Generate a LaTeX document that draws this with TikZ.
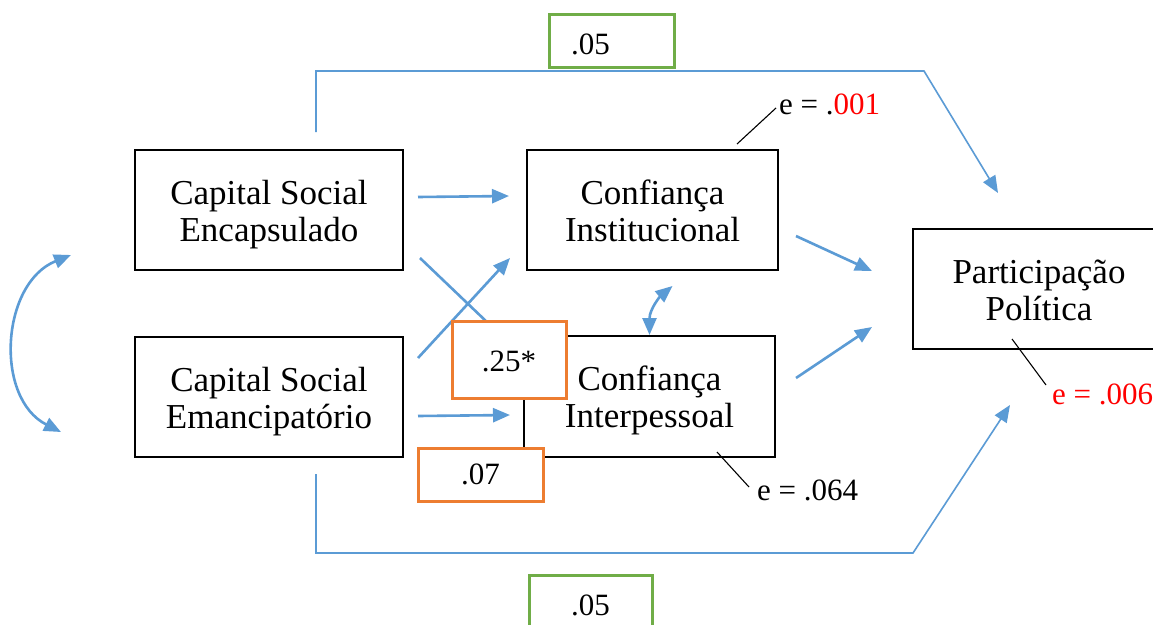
\documentclass[tikz,border=0pt]{standalone}
\usepackage{fontspec}
\setmainfont{Liberation Serif}
\usetikzlibrary{arrows.meta,calc}
\definecolor{cblue}{RGB}{91,155,213}
\definecolor{corange}{RGB}{237,125,49}
\definecolor{cgreen}{RGB}{112,173,71}
\newcommand{\topst}{\vrule width 0pt height 35pt depth 0pt}
\newcommand{\botst}{\vrule width 0pt height 0pt depth 10pt}
\begin{document}
\begin{tikzpicture}[x=1pt,y=-1pt,
  box/.style={draw=black, line width=2pt, fill=white, align=center,
    font=\fontsize{35}{37}\selectfont, inner sep=0pt},
  obox/.style={draw=corange, line width=3pt, fill=white, inner sep=0pt,
    font=\fontsize{31}{33}\selectfont},
  gbox/.style={draw=cgreen, line width=3pt, fill=white, inner sep=0pt,
    font=\fontsize{31}{33}\selectfont},
  etext/.style={anchor=west, inner sep=0pt, font=\fontsize{31}{33}\selectfont},
  tip/.style={-{Triangle[length=17pt,width=14pt]}},
  dtip/.style={{Triangle[length=17pt,width=14pt]}-{Triangle[length=17pt,width=14pt]}},
  arr/.style={draw=cblue, line width=2.6pt, tip},
  longarr/.style={draw=cblue, line width=1.6pt, -{Triangle[length=17pt,width=14pt]}},
  eline/.style={draw=black, line width=1.1pt}
]
\clip (0,0) rectangle (1153,624);
\fill[white] (0,0) rectangle (1153,624);

% main boxes
\node[box, minimum width=268pt, minimum height=120pt] (CSE) at (269,210) {\topst Capital Social\\Encapsulado\botst};
\node[box, minimum width=268pt, minimum height=120pt] (CSEm) at (269,397) {\topst Capital Social\\Emancipatório\botst};
\node[box, minimum width=251pt, minimum height=120pt] (CI) at (652.5,210) {\topst Confiança\\Institucional\botst};
\node[box, minimum width=251pt, minimum height=121pt] (CIP) at (649.5,396.5) {\topst Confiança\\Interpessoal\botst};
\node[box, minimum width=252pt, minimum height=120pt] (PP) at (1039,289) {\topst Participação\\Política\botst};

% long paths
\coordinate (tc) at (924,71);
\coordinate (bc) at (913,553);
\draw[longarr] ($(CSE.north)+(47,-17)$) |- (tc) -- ($(PP.north)+(-41,-35)$);
\draw[longarr] ($(CSEm.south)+(47,16)$) |- (bc) -- ($(PP.south)+(-29,55)$);

% straight arrows
\draw[arr] ($(CSE.east)+(14,-13)$) -- ($(CI.west)+(-17,-14)$);
\draw[arr] ($(CSEm.east)+(14,-39)$) -- ($(CI.west)+(-16,48)$);
\draw[arr] ($(CSE.east)+(16,48)$) -- ($(CSE.east)+(107,135)$);
\draw[arr] ($(CSEm.east)+(14,19)$) -- ($(CIP.west)+(-13,18.5)$);
\draw[arr] ($(CI.east)+(17,26)$) -- ($(PP.west)+(-40,-18)$);
\draw[arr] ($(CIP.east)+(20,-18.5)$) -- ($(PP.west)+(-40,38)$);

% curved double arrows
\draw[draw=cblue, line width=2.6pt, dtip] (CIP.north) .. controls +(0,-26) and +(-12,10) .. ($(CI.south)+(20,15)$);
\draw[draw=cblue, line width=2.6pt, dtip] ($(CSE.west)+(-63,45)$) .. controls +(-70,28) and +(-67,-34) .. ($(CSEm.west)+(-73,35)$);

% coefficient boxes
\node[obox, minimum width=114pt, minimum height=77pt] (b25) at (509,359.5) {\vrule width 0pt height 25pt depth 0pt.25*};
\node[obox, minimum width=125pt, minimum height=53pt] (b07) at (480.5,474.5) {.07};
\node[gbox, minimum width=125pt, minimum height=53pt, text width=125pt, align=left] (g1) at (611.5,40.5) {\vrule width 0pt height 29pt depth 0pt\hspace*{22pt}.05};
\node[gbox, minimum width=123pt, minimum height=60pt] (g2) at (590.5,605) {.05};

% error terms
\node[etext] (e1) at (779,104) {e = .\textcolor{red}{001}};
\node[etext] (e2) at (757,490) {e = .064};
\node[etext, text=red] (e3) at (1052,394) {e = .006};
\draw[eline] ($(CI.north)+(84.5,-5)$) -- ($(e1.west)+(-3,4)$);
\draw[eline] ($(CIP.south)+(67.5,-6)$) -- ($(e2.west)+(-8,-3)$);
\draw[eline] ($(PP.south)+(-27,-11)$) -- ($(e3.west)+(-6,-9)$);
\end{tikzpicture}
\end{document}
